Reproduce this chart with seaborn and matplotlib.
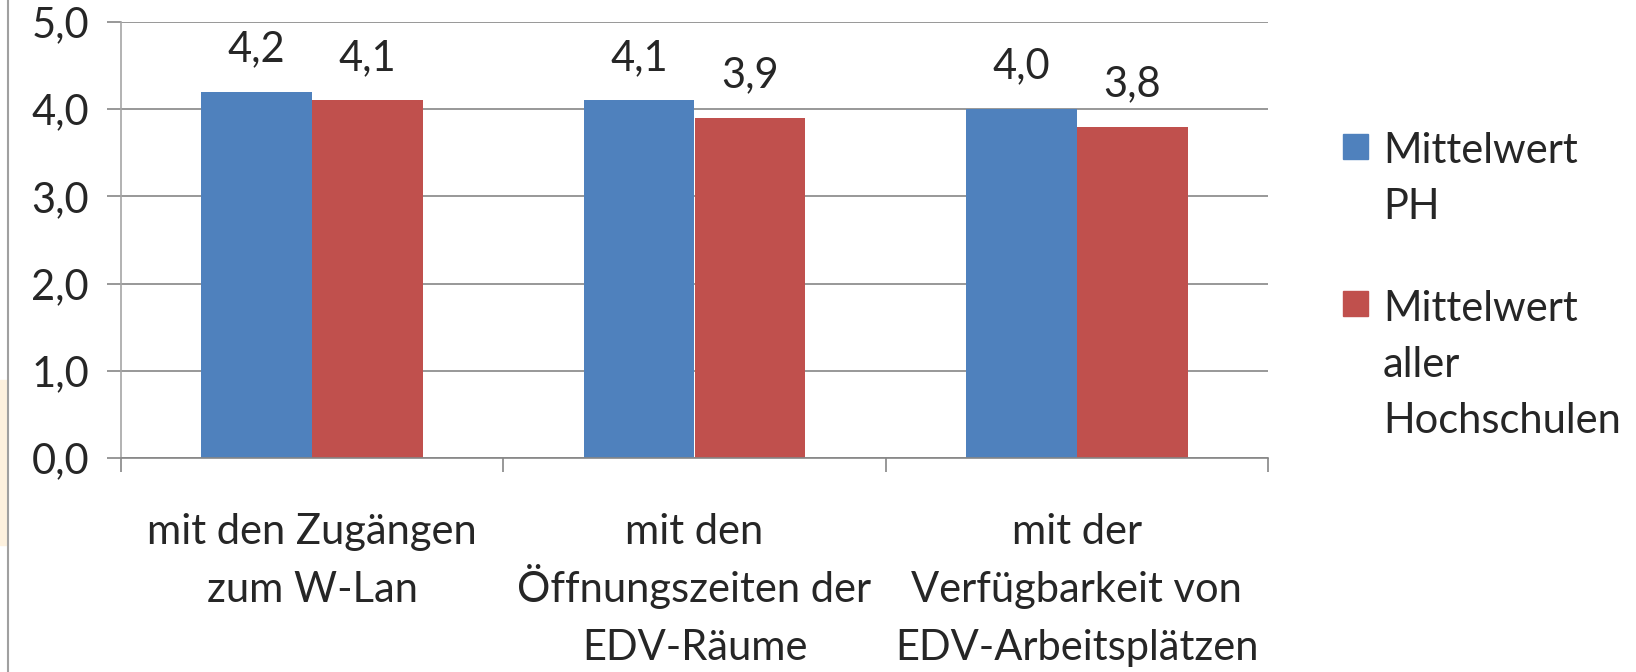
import numpy as np
import pandas as pd
import matplotlib
matplotlib.use("Agg")
import matplotlib.pyplot as plt
import seaborn as sns
from matplotlib.patches import Rectangle
from matplotlib.lines import Line2D
from matplotlib.ticker import FuncFormatter, FixedLocator

# data
categories = ["mit den Zugängen\nzum W-Lan",
              "mit den\nÖffnungszeiten der\nEDV-Räume",
              "mit der\nVerfügbarkeit von\nEDV-Arbeitsplätzen"]
series = ["Mittelwert PH", "Mittelwert aller Hochschulen"]
legend_labels = ["Mittelwert\nPH", "Mittelwert\naller\nHochschulen"]
ph_values = [4.2, 4.1, 4.0]
all_values = [4.1, 3.9, 3.8]
colors = ["#4F81BD", "#C0504D"]

df = pd.DataFrame({
    "Kategorie": categories * 2,
    "Reihe": [series[0]] * 3 + [series[1]] * 3,
    "Wert": ph_values + all_values,
})

sns.set_style("white")
plt.rcParams["font.family"] = ["Lato", "DejaVu Sans"]
fs = 30

W, H = 1636, 672
ax_bottom, ax_top = 458, 22
fig = plt.figure(figsize=(W / 100, H / 100), dpi=100)
ax = fig.add_axes([121 / W, 1 - ax_bottom / H, (1268 - 121) / W, (ax_bottom - ax_top) / H])

sns.barplot(data=df, x="Kategorie", y="Wert", hue="Reihe", palette=colors,
            saturation=1, width=0.58, gap=0, linewidth=0, ax=ax, legend=False)

for cont, vals in zip(ax.containers, [ph_values, all_values]):
    ax.bar_label(cont, labels=[f"{v:.1f}".replace(".", ",") for v in vals],
                 padding=17, fontsize=fs)

ax.set_ylim(0, 5)
ax.set_xlim(-0.5, 2.5)
ax.set_yticks(np.arange(0, 5.01, 1))
ax.yaxis.set_major_formatter(FuncFormatter(lambda v, p: f"{v:.1f}".replace(".", ",")))
ax.grid(axis="y", color="#868686", linewidth=1.2)
ax.set_axisbelow(True)
ax.set_xlabel("")
ax.set_ylabel("")

for s in ["top", "right"]:
    ax.spines[s].set_visible(False)
ax.spines["left"].set_color("#A6A6A6")
ax.spines["left"].set_linewidth(1.2)
ax.spines["bottom"].set_color("#868686")
ax.spines["bottom"].set_linewidth(1.2)

ax.tick_params(axis="y", which="major", length=10, width=1.2, color="#868686",
               pad=13, labelsize=fs, left=True)
ax.xaxis.set_minor_locator(FixedLocator([-0.5, 0.5, 1.5, 2.5]))
ax.tick_params(axis="x", which="minor", length=10, width=1.2, color="#868686", bottom=True)
ax.tick_params(axis="x", which="major", length=0, labelbottom=False)

# category labels, one text per line so the spacing stays even
axis_h = ax_bottom - ax_top
line_base = [544, 602, 660]
for i, cat in enumerate(categories):
    for j, line in enumerate(cat.split("\n")):
        ax.text(i, (ax_bottom - line_base[j]) / axis_h, line, fontsize=fs,
                ha="center", va="baseline", transform=ax.get_xaxis_transform(),
                clip_on=False)

# legend drawn at the right
entry_base = [[163, 219], [321, 377, 433]]
box_top = [134, 291]
for c, lab, bases, bt in zip(colors, legend_labels, entry_base, box_top):
    fig.patches.append(Rectangle((1343 / W, 1 - (bt + 25) / H), 25 / W, 25 / H,
                                 transform=fig.transFigure, color=c))
    for line, yb in zip(lab.split("\n"), bases):
        fig.text(1383 / W, 1 - yb / H, line, fontsize=fs, va="baseline", ha="left")

# frame line at the left edge and faint tint
fig.patches.append(Rectangle((0, 1 - 545 / H), 7 / W, 165 / H,
                             transform=fig.transFigure, color="#FDF1DE", zorder=0))
fig.lines.append(Line2D([8 / W, 8 / W], [0, 1], transform=fig.transFigure,
                        color="#A0A0A0", linewidth=1.5))

fig.savefig("out.png", dpi=100)
